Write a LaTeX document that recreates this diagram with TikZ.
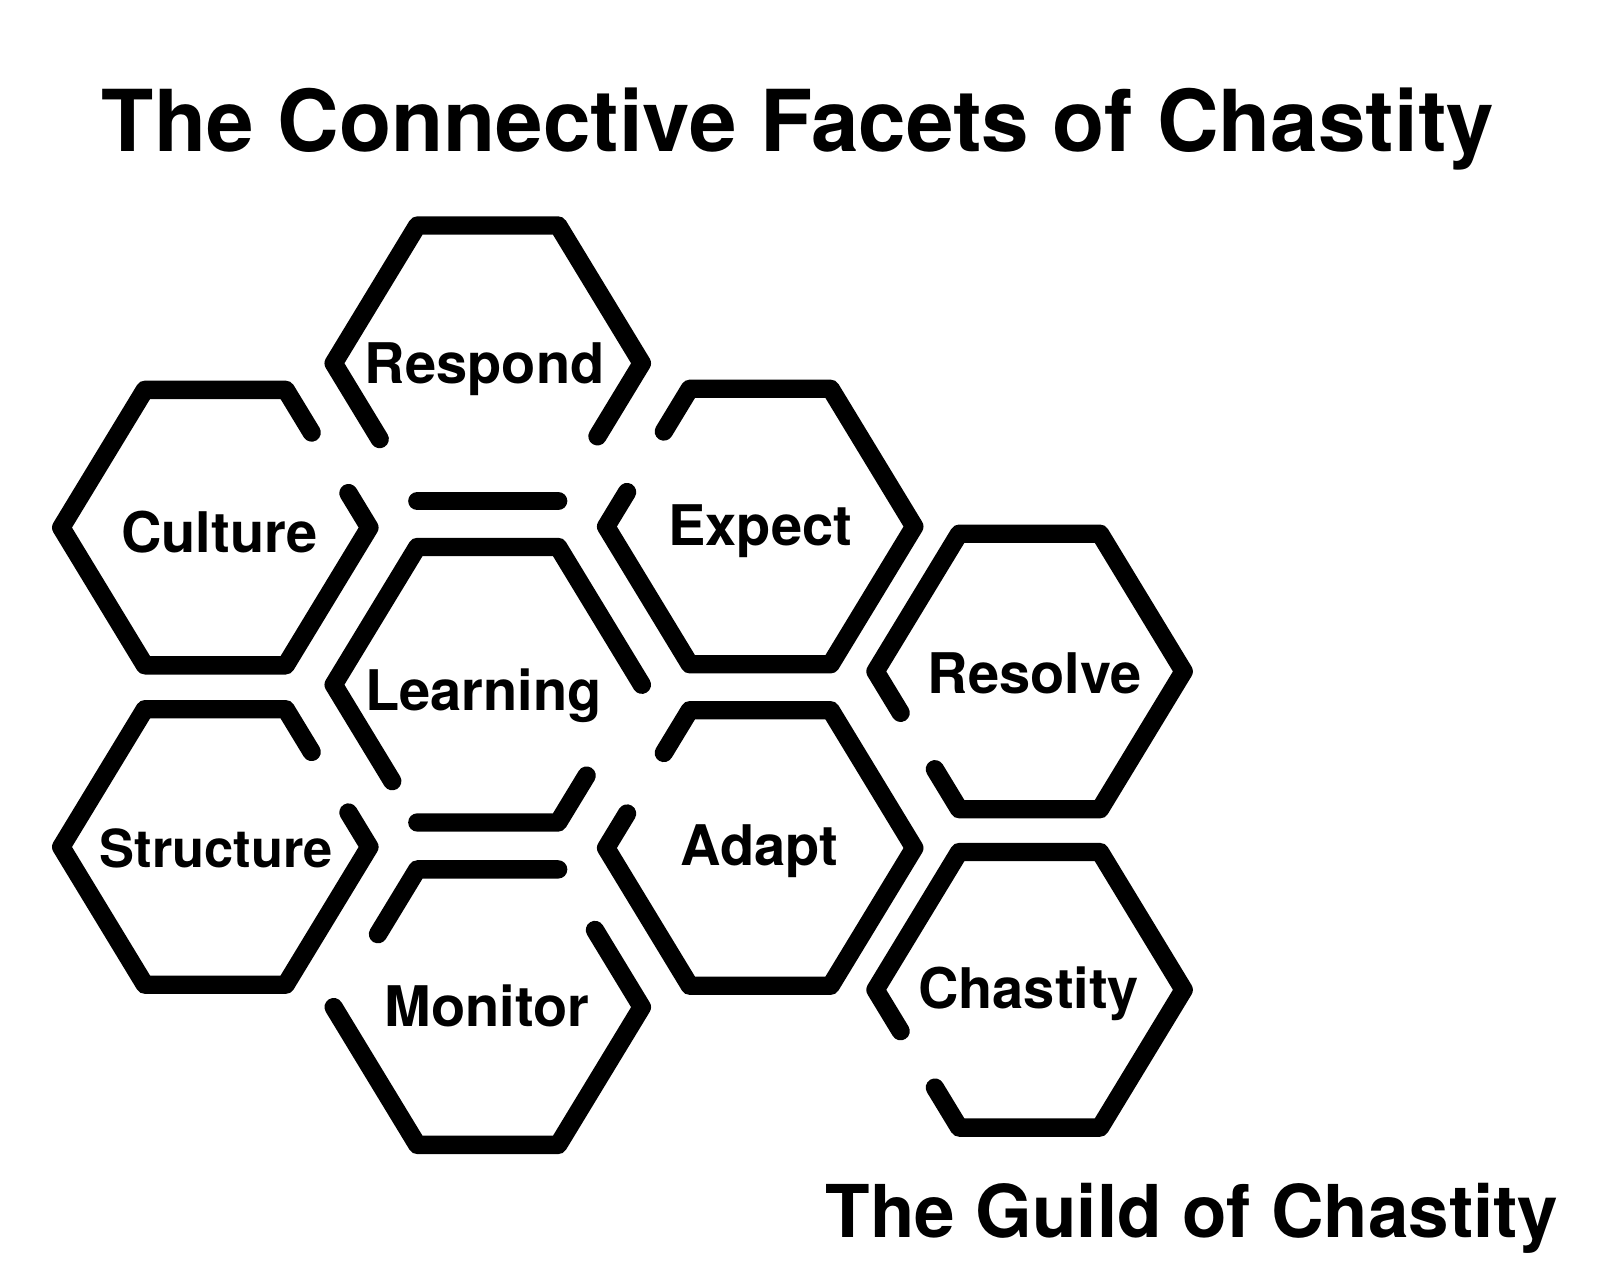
\documentclass[tikz,border=0pt]{standalone}
\usepackage{fontspec}
\setmainfont{TeX Gyre Heros}
\usetikzlibrary{calc}
\newcommand\hexcoords[3]{%
  \coordinate (#1-L)  at ({#2-151},{#3});
  \coordinate (#1-TL) at ({#2-69},{#3-135});
  \coordinate (#1-TR) at ({#2+69},{#3-135});
  \coordinate (#1-R)  at ({#2+151},{#3});
  \coordinate (#1-BR) at ({#2+69},{#3+135});
  \coordinate (#1-BL) at ({#2-69},{#3+135});
}
\tikzset{
  hexline/.style={line width=0.18cm, line cap=round, line join=round, draw=black},
  lbl/.style={font=\bfseries\fontsize{15.6}{18}\selectfont, anchor=base, inner sep=0pt},
  lblsmall/.style={font=\bfseries\fontsize{14.6}{17}\selectfont, anchor=base, inner sep=0pt},
  titletext/.style={font=\bfseries\fontsize{23.8}{28}\selectfont, anchor=base, inner sep=0pt},
  foottext/.style={font=\bfseries\fontsize{20.3}{24}\selectfont, anchor=base east, inner sep=0pt}
}
\begin{document}
\begin{tikzpicture}[x=0.01cm, y=-0.01cm]
\useasboundingbox[fill=white] (0,0) rectangle (1568,1253);

\hexcoords{Rp}{478}{356}
\hexcoords{Cu}{211}{517}
\hexcoords{Ex}{745}{516}
\hexcoords{Le}{478}{671}
\hexcoords{St}{211}{830}
\hexcoords{Ad}{745}{831}
\hexcoords{Mo}{478}{987}
\hexcoords{Rs}{1009}{658}
\hexcoords{Ch}{1009}{970}

% Respond
\draw[hexline] ($(Rp-L)!0.55!(Rp-BL)$) -- (Rp-L) -- (Rp-TL) -- (Rp-TR) -- (Rp-R) -- ($(Rp-R)!0.53!(Rp-BR)$);
\draw[hexline] (Rp-BL) -- (Rp-BR);
% Culture
\draw[hexline] ($(Cu-TR)!0.31!(Cu-R)$) -- (Cu-TR) -- (Cu-TL) -- (Cu-L) -- (Cu-BL) -- (Cu-BR) -- (Cu-R) -- ($(Cu-TR)!0.75!(Cu-R)$);
% Structure
\draw[hexline] ($(St-TR)!0.31!(St-R)$) -- (St-TR) -- (St-TL) -- (St-L) -- (St-BL) -- (St-BR) -- (St-R) -- ($(St-TR)!0.75!(St-R)$);
% Expect
\draw[hexline] ($(Ex-TL)!0.31!(Ex-L)$) -- (Ex-TL) -- (Ex-TR) -- (Ex-R) -- (Ex-BR) -- (Ex-BL) -- (Ex-L) -- ($(Ex-TL)!0.75!(Ex-L)$);
% Adapt
\draw[hexline] ($(Ad-TL)!0.31!(Ad-L)$) -- (Ad-TL) -- (Ad-TR) -- (Ad-R) -- (Ad-BR) -- (Ad-BL) -- (Ad-L) -- ($(Ad-TL)!0.75!(Ad-L)$);
% Learning
\draw[hexline] ($(Le-L)!0.70!(Le-BL)$) -- (Le-L) -- (Le-TL) -- (Le-TR) -- (Le-R);
\draw[hexline] ($(Le-R)!0.66!(Le-BR)$) -- (Le-BR) -- (Le-BL);
% Monitor
\draw[hexline] (Mo-TR) -- (Mo-TL) -- ($(Mo-TL)!0.47!(Mo-L)$);
\draw[hexline] ($(Mo-TR)!0.44!(Mo-R)$) -- (Mo-R) -- (Mo-BR) -- (Mo-BL) -- (Mo-L);
% Resolve
\draw[hexline] ($(Rs-L)!0.30!(Rs-BL)$) -- (Rs-L) -- (Rs-TL) -- (Rs-TR) -- (Rs-R) -- (Rs-BR) -- (Rs-BL) -- ($(Rs-L)!0.71!(Rs-BL)$);
% Chastity
\draw[hexline] ($(Ch-L)!0.30!(Ch-BL)$) -- (Ch-L) -- (Ch-TL) -- (Ch-TR) -- (Ch-R) -- (Ch-BR) -- (Ch-BL) -- ($(Ch-L)!0.71!(Ch-BL)$);

% labels
\node[lbl] (respond) at (475,376) {Respond};
\node[lbl] (culture) at (215,541) {Culture};
\node[lbl] (expect) at (745,535) {Expect};
\node[lbl] (learning) at (474,696) {Learning};
\node[lbl] (resolve) at (1014,680) {Resolve};
\node[lblsmall] (structure) at (212,850) {Structure};
\node[lbl] (adapt) at (744,848) {Adapt};
\node[lbl] (monitor) at (477,1006) {Monitor};
\node[lbl] (chastity) at (1008,988) {Chastity};

\node[titletext] (title) at (782,148) {The Connective Facets of Chastity};
\node[foottext] (footer) at (1528,1213) {The Guild of Chastity};
\end{tikzpicture}
\end{document}
